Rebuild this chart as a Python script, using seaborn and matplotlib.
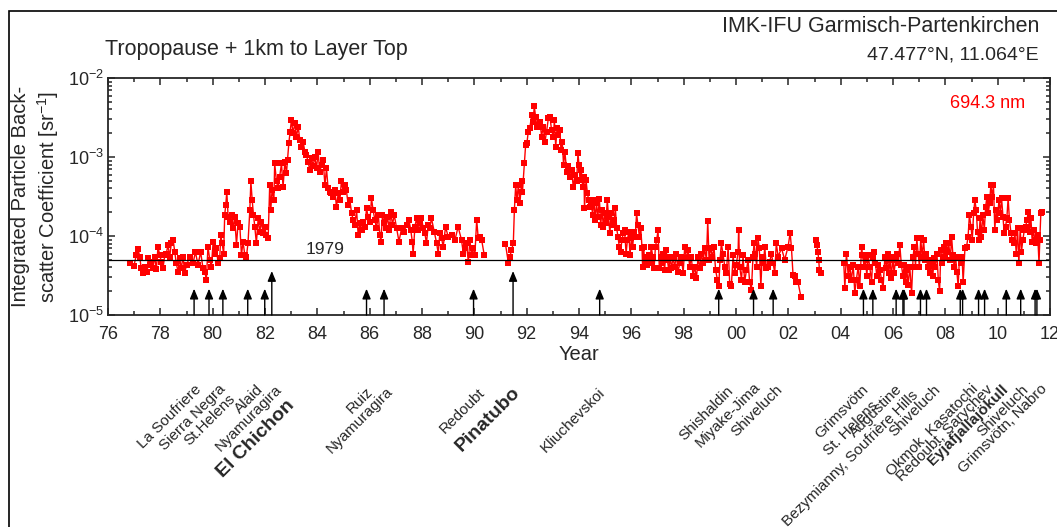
import matplotlib
matplotlib.use("Agg")
import matplotlib.pyplot as plt
import matplotlib.transforms as mtransforms
from matplotlib.patches import Rectangle
from matplotlib.ticker import MultipleLocator, FuncFormatter, LogLocator, NullFormatter
import numpy as np
import pandas as pd
import seaborn as sns

# integrated backscatter, tropopause + 1 km to layer top, 694.3 nm (year, sr^-1)
obs_1976_1991 = [
    (1976.83, 4.6e-5), (1976.99, 4.2e-5), (1977.08, 5.7e-5), (1977.15, 6.8e-5), (1977.21, 5.5e-5),
    (1977.27, 3.9e-5), (1977.34, 3.4e-5), (1977.40, 4.1e-5), (1977.50, 3.5e-5), (1977.53, 5.2e-5),
    (1977.59, 4.3e-5), (1977.66, 4.7e-5), (1977.72, 3.9e-5), (1977.78, 5.5e-5), (1977.85, 3.8e-5),
    (1977.91, 7.3e-5), (1977.98, 5.7e-5), (1978.04, 4.7e-5), (1978.10, 3.9e-5), (1978.17, 5.7e-5),
    (1978.23, 6.0e-5), (1978.29, 7.7e-5), (1978.36, 5.5e-5), (1978.42, 8.1e-5), (1978.49, 8.9e-5),
    (1978.55, 6.3e-5), (1978.61, 4.5e-5), (1978.68, 3.5e-5), (1978.74, 5.2e-5), (1978.80, 3.9e-5),
    (1978.87, 5.5e-5), (1978.93, 3.4e-5), (1979.00, 4.3e-5), (1979.12, 5.4e-5), (1979.25, 4.5e-5),
    (1979.34, 6.3e-5), (1979.44, 4.3e-5), (1979.54, 6.3e-5), (1979.63, 3.9e-5), (1979.70, 3.5e-5),
    (1979.76, 2.8e-5), (1979.82, 7.3e-5), (1979.89, 5.0e-5), (1979.95, 4.1e-5), (1980.02, 8.5e-5),
    (1980.08, 6.0e-5), (1980.14, 7.0e-5), (1980.21, 4.5e-5), (1980.27, 5.2e-5), (1980.31, 1.03e-4),
    (1980.36, 8.1e-5), (1980.42, 6.0e-5), (1980.46, 1.85e-4), (1980.50, 2.47e-4), (1980.54, 3.65e-4),
    (1980.59, 1.76e-4), (1980.65, 1.52e-4), (1980.72, 1.85e-4), (1980.78, 1.25e-4), (1980.84, 1.76e-4),
    (1980.91, 7.7e-5), (1980.97, 1.45e-4), (1981.04, 1.31e-4), (1981.10, 5.7e-5), (1981.16, 8.5e-5),
    (1981.23, 5.7e-5), (1981.29, 5.5e-5), (1981.35, 8.1e-5), (1981.42, 2.13e-4), (1981.46, 4.9e-4),
    (1981.51, 2.86e-4), (1981.56, 1.85e-4), (1981.61, 1.31e-4), (1981.67, 8.1e-5), (1981.74, 1.68e-4),
    (1981.80, 1.13e-4), (1981.86, 1.52e-4), (1981.93, 1.08e-4), (1981.99, 1.31e-4), (1982.05, 1.03e-4),
    (1982.12, 9.3e-5), (1982.18, 4.4e-4), (1982.22, 2.13e-4), (1982.27, 3.8e-4), (1982.34, 2.86e-4),
    (1982.37, 8.3e-4), (1982.44, 4.9e-4), (1982.50, 4.0e-4), (1982.56, 5.6e-4), (1982.63, 8.3e-4),
    (1982.69, 4.2e-4), (1982.76, 8.7e-4), (1982.82, 6.2e-4), (1982.86, 9.2e-4), (1982.91, 1.49e-3),
    (1982.96, 2.1e-3), (1983.01, 2.94e-3), (1983.07, 2.0e-3), (1983.14, 2.67e-3), (1983.20, 1.81e-3),
    (1983.27, 2.42e-3), (1983.33, 1.64e-3), (1983.39, 1.35e-3), (1983.46, 1.56e-3), (1983.52, 1.17e-3),
    (1983.58, 1.06e-3), (1983.65, 8.7e-4), (1983.71, 6.8e-4), (1983.78, 9.6e-4), (1983.84, 7.6e-4),
    (1983.90, 1.01e-3), (1983.97, 7.2e-4), (1984.03, 1.17e-3), (1984.09, 6.5e-4), (1984.16, 7.9e-4),
    (1984.22, 9.2e-4), (1984.29, 4.4e-4), (1984.35, 7.2e-4), (1984.41, 4.0e-4), (1984.48, 3.65e-4),
    (1984.54, 3.47e-4), (1984.60, 3.15e-4), (1984.67, 3.8e-4), (1984.73, 2.35e-4), (1984.80, 3.47e-4),
    (1984.86, 2.86e-4), (1984.92, 4.9e-4), (1984.99, 3.65e-4), (1985.05, 4.4e-4), (1985.11, 3.8e-4),
    (1985.18, 2.47e-4), (1985.24, 2.86e-4), (1985.31, 1.94e-4), (1985.37, 1.6e-4), (1985.43, 1.38e-4),
    (1985.50, 2.13e-4), (1985.56, 1.03e-4), (1985.62, 1.45e-4), (1985.69, 1.19e-4), (1985.75, 1.52e-4),
    (1985.82, 1.31e-4), (1985.88, 2.24e-4), (1985.94, 1.76e-4), (1986.01, 1.52e-4), (1986.07, 3.0e-4),
    (1986.13, 2.13e-4), (1986.20, 1.6e-4), (1986.26, 1.25e-4), (1986.33, 1.85e-4), (1986.39, 1.03e-4),
    (1986.43, 8.5e-5), (1986.49, 1.85e-4), (1986.55, 1.45e-4), (1986.62, 1.25e-4), (1986.68, 1.76e-4),
    (1986.75, 1.19e-4), (1986.81, 2.03e-4), (1986.87, 1.38e-4), (1986.94, 1.85e-4), (1987.03, 1.25e-4),
    (1987.12, 8.5e-5), (1987.22, 1.25e-4), (1987.31, 1.13e-4), (1987.41, 1.38e-4), (1987.50, 1.6e-4),
    (1987.57, 1.19e-4), (1987.63, 8.5e-5), (1987.66, 5.9e-5), (1987.73, 1.31e-4), (1987.79, 1.68e-4),
    (1987.85, 1.19e-4), (1987.92, 1.45e-4), (1987.98, 1.68e-4), (1988.05, 1.25e-4), (1988.11, 1.08e-4),
    (1988.17, 8.1e-5), (1988.24, 1.38e-4), (1988.30, 1.25e-4), (1988.36, 1.68e-4), (1988.47, 1.13e-4),
    (1988.56, 8.1e-5), (1988.62, 6.0e-5), (1988.68, 1.08e-4), (1988.75, 9.3e-5), (1988.81, 7.3e-5),
    (1988.90, 1.31e-4), (1989.00, 9.8e-5), (1989.13, 1.03e-4), (1989.26, 8.9e-5), (1989.38, 1.31e-4),
    (1989.51, 8.9e-5), (1989.58, 6.0e-5), (1989.64, 7.0e-5), (1989.70, 8.1e-5), (1989.77, 4.7e-5),
    (1989.83, 8.9e-5), (1989.89, 5.7e-5), (1989.96, 7.0e-5), (1990.02, 5.7e-5), (1990.09, 1.6e-4),
    (1990.15, 9.3e-5), (1990.21, 9.8e-5), (1990.28, 8.9e-5), (1990.38, 5.7e-5),
]

obs_1991_1994 = [
    (1991.19, 7.9e-5), (1991.30, 4.6e-5), (1991.36, 5.5e-5), (1991.42, 6.6e-5), (1991.49, 8.1e-5),
    (1991.53, 2.13e-4), (1991.58, 4.4e-4), (1991.63, 2.86e-4), (1991.68, 4.4e-4), (1991.74, 2.59e-4),
    (1991.81, 4.9e-4), (1991.84, 3.65e-4), (1991.91, 8.3e-4), (1991.96, 1.42e-3), (1992.01, 1.49e-3),
    (1992.06, 2.1e-3), (1992.12, 2.3e-3), (1992.19, 3.4e-3), (1992.25, 2.8e-3), (1992.29, 4.4e-3),
    (1992.34, 3.24e-3), (1992.39, 2.42e-3), (1992.44, 2.55e-3), (1992.51, 2.8e-3), (1992.57, 1.81e-3),
    (1992.63, 2.42e-3), (1992.70, 1.56e-3), (1992.76, 2.1e-3), (1992.83, 3.1e-3), (1992.89, 3.24e-3),
    (1992.95, 2.2e-3), (1993.02, 1.81e-3), (1993.06, 2.94e-3), (1993.11, 1.35e-3), (1993.16, 2.3e-3),
    (1993.21, 1.9e-3), (1993.27, 2.2e-3), (1993.31, 1.23e-3), (1993.36, 1.56e-3), (1993.41, 7.9e-4),
    (1993.46, 1.17e-3), (1993.53, 6.5e-4), (1993.59, 7.6e-4), (1993.65, 5.6e-4), (1993.72, 6.8e-4),
    (1993.78, 4.2e-4), (1993.85, 5.9e-4), (1993.91, 4.9e-4), (1993.96, 1.11e-3), (1994.00, 7.9e-4),
]

obs_1994_2003 = [
    (1994.04, 5.1e-4), (1994.09, 6.8e-4), (1994.14, 4.2e-4), (1994.19, 5.6e-4), (1994.21, 2.24e-4),
    (1994.27, 5.1e-4), (1994.32, 3.47e-4), (1994.37, 2.86e-4), (1994.42, 2.35e-4), (1994.47, 2.72e-4),
    (1994.52, 1.85e-4), (1994.57, 2.86e-4), (1994.62, 1.6e-4), (1994.67, 2.59e-4), (1994.72, 1.76e-4),
    (1994.78, 2.9e-4), (1994.83, 1.38e-4), (1994.88, 2.13e-4), (1994.93, 1.31e-4), (1994.98, 1.94e-4),
    (1995.03, 1.45e-4), (1995.08, 2.86e-4), (1995.13, 1.76e-4), (1995.18, 1.08e-4), (1995.23, 1.94e-4),
    (1995.29, 1.38e-4), (1995.34, 1.6e-4), (1995.39, 2.24e-4), (1995.44, 1.25e-4), (1995.49, 9.8e-5),
    (1995.54, 7.3e-5), (1995.59, 6.3e-5), (1995.64, 8.9e-5), (1995.69, 1.08e-4), (1995.74, 1.19e-4),
    (1995.80, 6.0e-5), (1995.85, 8.9e-5), (1995.90, 1.13e-4), (1995.95, 5.7e-5), (1996.00, 9.3e-5),
    (1996.05, 7.3e-5), (1996.10, 1.13e-4), (1996.15, 9.8e-5), (1996.20, 1.94e-4), (1996.25, 1.38e-4),
    (1996.31, 9.8e-5), (1996.36, 1.25e-4), (1996.41, 7.0e-5), (1996.43, 4.1e-5), (1996.47, 7.3e-5),
    (1996.51, 4.5e-5), (1996.56, 5.5e-5), (1996.61, 4.3e-5), (1996.66, 5.7e-5), (1996.71, 4.5e-5),
    (1996.76, 7.3e-5), (1996.82, 5.5e-5), (1996.87, 3.9e-5), (1996.92, 7.3e-5), (1996.97, 8.9e-5),
    (1997.02, 1.19e-4), (1997.07, 3.9e-5), (1997.12, 5.5e-5), (1997.17, 4.5e-5), (1997.22, 6.0e-5),
    (1997.27, 3.7e-5), (1997.33, 6.6e-5), (1997.38, 5.0e-5), (1997.43, 3.7e-5), (1997.48, 5.5e-5),
    (1997.53, 3.9e-5), (1997.59, 5.2e-5), (1997.66, 4.1e-5), (1997.72, 6.0e-5), (1997.78, 3.5e-5),
    (1997.85, 4.5e-5), (1997.91, 5.5e-5), (1997.98, 3.4e-5), (1998.04, 7.3e-5), (1998.10, 5.2e-5),
    (1998.17, 6.6e-5), (1998.23, 4.1e-5), (1998.29, 5.5e-5), (1998.36, 3.1e-5), (1998.42, 4.1e-5),
    (1998.49, 2.9e-5), (1998.55, 5.5e-5), (1998.61, 3.9e-5), (1998.68, 6.0e-5), (1998.74, 4.5e-5),
    (1998.80, 7.0e-5), (1998.87, 5.0e-5), (1998.92, 1.57e-4), (1998.97, 5.0e-5), (1999.03, 7.0e-5),
    (1999.10, 5.5e-5), (1999.16, 7.3e-5), (1999.22, 3.7e-5), (1999.29, 2.8e-5), (1999.34, 2.3e-5),
    (1999.39, 5.0e-5), (1999.44, 8.1e-5), (1999.50, 6.0e-5), (1999.57, 4.1e-5), (1999.63, 3.4e-5),
    (1999.70, 7.3e-5), (1999.76, 2.5e-5), (1999.82, 2.3e-5), (1999.89, 5.7e-5), (1999.95, 3.4e-5),
    (2000.01, 4.3e-5), (2000.08, 6.3e-5), (2000.10, 1.19e-4), (2000.14, 4.1e-5), (2000.21, 2.8e-5),
    (2000.27, 5.7e-5), (2000.33, 2.6e-5), (2000.40, 3.7e-5), (2000.46, 5.0e-5), (2000.52, 2.6e-5),
    (2000.59, 2.1e-5), (2000.65, 5.5e-5), (2000.69, 8.1e-5), (2000.74, 6.0e-5), (2000.79, 4.1e-5),
    (2000.84, 9.3e-5), (2000.89, 7.0e-5), (2000.95, 2.3e-5), (2001.00, 5.5e-5), (2001.05, 4.5e-5),
    (2001.10, 7.3e-5), (2001.16, 3.9e-5), (2001.23, 4.1e-5), (2001.29, 4.7e-5), (2001.35, 6.0e-5),
    (2001.42, 4.5e-5), (2001.48, 3.4e-5), (2001.54, 8.1e-5), (2001.61, 5.5e-5), (2001.74, 7.0e-5),
    (2001.86, 5.0e-5), (2001.99, 7.3e-5), (2002.07, 1.1e-4), (2002.12, 7.0e-5), (2002.18, 3.2e-5),
    (2002.25, 3.1e-5), (2002.31, 2.6e-5), (2002.37, 2.6e-5), (2002.48, 1.7e-5),
    (2003.05, 8.9e-5), (2003.09, 7.7e-5), (2003.13, 6.3e-5), (2003.16, 5.0e-5), (2003.19, 3.7e-5),
    (2003.24, 3.4e-5),
]

obs_2004_2012 = [
    (2004.12, 4.5e-5), (2004.16, 2.2e-5), (2004.22, 6.0e-5), (2004.29, 3.1e-5), (2004.35, 4.1e-5),
    (2004.41, 2.8e-5), (2004.48, 4.3e-5), (2004.54, 1.9e-5), (2004.60, 2.8e-5), (2004.67, 4.1e-5),
    (2004.73, 2.3e-5), (2004.80, 7.3e-5), (2004.83, 5.7e-5), (2004.90, 4.1e-5), (2004.95, 5.0e-5),
    (2005.00, 3.1e-5), (2005.05, 5.7e-5), (2005.11, 4.1e-5), (2005.18, 2.6e-5), (2005.23, 5.5e-5),
    (2005.28, 6.3e-5), (2005.33, 4.5e-5), (2005.38, 3.1e-5), (2005.43, 4.3e-5), (2005.50, 3.7e-5),
    (2005.56, 2.8e-5), (2005.62, 2.2e-5), (2005.69, 5.5e-5), (2005.75, 3.9e-5), (2005.79, 6.0e-5),
    (2005.84, 3.4e-5), (2005.89, 5.0e-5), (2005.94, 2.9e-5), (2005.99, 5.5e-5), (2006.04, 3.4e-5),
    (2006.10, 5.0e-5), (2006.15, 6.0e-5), (2006.20, 4.5e-5), (2006.26, 7.7e-5), (2006.32, 4.3e-5),
    (2006.38, 3.1e-5), (2006.43, 4.3e-5), (2006.48, 2.6e-5), (2006.53, 3.7e-5), (2006.58, 2.4e-5),
    (2006.64, 4.1e-5), (2006.71, 1.9e-5), (2006.77, 5.5e-5), (2006.81, 7.3e-5), (2006.86, 4.1e-5),
    (2006.91, 9.3e-5), (2006.96, 6.0e-5), (2007.01, 4.1e-5), (2007.06, 9.3e-5), (2007.11, 5.5e-5),
    (2007.17, 8.9e-5), (2007.22, 5.0e-5), (2007.27, 6.0e-5), (2007.32, 4.1e-5), (2007.37, 5.0e-5),
    (2007.42, 3.4e-5), (2007.47, 4.5e-5), (2007.52, 3.1e-5), (2007.57, 5.2e-5), (2007.62, 4.1e-5),
    (2007.68, 6.0e-5), (2007.73, 2.8e-5), (2007.78, 2.0e-5), (2007.83, 6.6e-5), (2007.88, 4.5e-5),
    (2007.93, 7.3e-5), (2007.98, 5.5e-5), (2008.03, 8.1e-5), (2008.08, 6.3e-5), (2008.13, 8.1e-5),
    (2008.19, 5.0e-5), (2008.24, 9.8e-5), (2008.29, 5.7e-5), (2008.34, 4.1e-5), (2008.39, 5.5e-5),
    (2008.44, 3.5e-5), (2008.49, 2.3e-5), (2008.54, 5.5e-5), (2008.59, 4.5e-5), (2008.64, 5.5e-5),
    (2008.68, 2.6e-5), (2008.75, 7.0e-5), (2008.81, 7.3e-5), (2008.87, 9.8e-5), (2008.92, 1.85e-4),
    (2008.98, 1.31e-4), (2009.03, 8.9e-5), (2009.08, 1.94e-4), (2009.13, 2.86e-4), (2009.18, 2.13e-4),
    (2009.23, 1.13e-4), (2009.28, 8.9e-5), (2009.33, 1.68e-4), (2009.38, 9.8e-5), (2009.43, 1.85e-4),
    (2009.49, 1.19e-4), (2009.54, 2.35e-4), (2009.59, 3.15e-4), (2009.64, 1.94e-4), (2009.69, 2.59e-4),
    (2009.74, 4.4e-4), (2009.79, 3.15e-4), (2009.84, 4.4e-4), (2009.89, 1.19e-4), (2009.94, 2.13e-4),
    (2009.99, 1.6e-4), (2010.05, 2.86e-4), (2010.10, 1.94e-4), (2010.15, 3.0e-4), (2010.20, 1.76e-4),
    (2010.25, 1.08e-4), (2010.30, 1.31e-4), (2010.35, 1.68e-4), (2010.40, 3.0e-4), (2010.45, 1.6e-4),
    (2010.51, 1.08e-4), (2010.56, 8.9e-5), (2010.61, 8.1e-5), (2010.66, 1.08e-4), (2010.71, 6.0e-5),
    (2010.76, 1.25e-4), (2010.81, 4.5e-5), (2010.86, 1.25e-4), (2010.91, 6.3e-5), (2010.96, 8.9e-5),
    (2011.02, 1.19e-4), (2011.07, 1.31e-4), (2011.12, 1.6e-4), (2011.17, 2.03e-4), (2011.22, 1.13e-4),
    (2011.27, 1.68e-4), (2011.32, 8.5e-5), (2011.37, 1.19e-4), (2011.42, 8.9e-5), (2011.48, 8.1e-5),
    (2011.53, 1.03e-4), (2011.58, 4.5e-5), (2011.61, 8.9e-5), (2011.65, 1.94e-4), (2011.70, 2.03e-4),
]

background_1979 = 4.9e-5

# eruptions: year of arrow, major (tall arrow) or not
eruption_years = [1979.29, 1979.86, 1980.39, 1981.34, 1981.99, 1982.26, 1985.88, 1986.55,
                  1989.97, 1991.48, 1994.79, 1999.34, 2000.67, 2001.42, 2004.87, 2005.23,
                  2006.12, 2006.38, 2006.42, 2007.05, 2007.28, 2008.57, 2008.66, 2009.27,
                  2009.50, 2010.33, 2010.88, 2011.43, 2011.50]
major_eruptions = [1982.26, 1991.48]

volcano_names = ["La Soufriere", "Sierra Negra", "St.Helens", "Alaid", "Nyamuragira",
                 "El Chichon", "Ruiz", "Nyamuragira", "Redoubt", "Pinatubo", "Kliuchevskoi",
                 "Shishaldin", "Miyake-Jima", "Shiveluch", "Grimsvötn", "St. Helens",
                 "Augustine", "Bezymianny, Soufrière Hills", "Shiveluch", "Okmok, Kasatochi",
                 "Redoubt, Sarychev", "Eyjafjallajökull", "Shiveluch", "Grimsvötn, Nabro"]
volcano_label_x = [1979.30, 1980.20, 1980.60, 1981.65, 1982.38, 1982.78, 1985.86, 1986.62,
                   1990.14, 1991.42, 1994.73, 1999.63, 2000.66, 2001.50, 2004.79, 2005.17,
                   2006.08, 2006.70, 2007.54, 2008.99, 2009.53, 2010.14, 2010.91, 2011.63]
volcano_label_top = [382, 382, 392, 382, 382, 397, 385, 384, 385, 384, 385, 384, 380, 382,
                     382, 399, 382, 388, 382, 382, 382, 382, 382, 382]
bold_names = {"El Chichon": 14, "Pinatubo": 14, "Eyjafjallajökull": 11}

sns.set_style("ticks")
plt.rcParams['font.family'] = ['Liberation Sans', 'DejaVu Sans']
plt.rcParams['mathtext.fontset'] = 'custom'
plt.rcParams['mathtext.rm'] = 'Liberation Sans'
plt.rcParams['mathtext.it'] = 'Liberation Sans:italic'
plt.rcParams['mathtext.bf'] = 'Liberation Sans:bold'

W, H = 1057, 527
fig = plt.figure(figsize=(W / 100, H / 100), dpi=100)
ax = fig.add_axes([108 / W, 1 - 315 / H, 942 / W, 237 / H])

# outer frame
fig.patches.append(Rectangle((9 / W, -0.1), 1.2, 1.1 - 11 / H, transform=fig.transFigure,
                             fill=False, ec='black', lw=1.2))

obs = pd.DataFrame(obs_1976_1991 + obs_1991_1994 + obs_1994_2003 + obs_2004_2012,
                   columns=['year', 'beta'])
obs['segment'] = (obs['year'].diff() > 0.45).cumsum()

sns.lineplot(data=obs, x='year', y='beta', units='segment', estimator=None, color='red',
             lw=1.0, marker='s', markersize=4.2, markeredgewidth=0, ax=ax)

ax.axhline(background_1979, color='black', lw=0.9)
ax.text(1984.3, 6.8e-5, "1979", ha='center', va='center', fontsize=12.5)

for x in eruption_years:
    tip = 3.6e-5 if x in major_eruptions else 2.15e-5
    ax.annotate('', xy=(x, tip), xytext=(x, 1e-5),
                arrowprops=dict(arrowstyle='-|>,head_length=0.6,head_width=0.25',
                                color='black', lw=1, shrinkA=0, shrinkB=0))

ax.set_yscale('log')
ax.set_ylim(1e-5, 1e-2)
ax.set_xlim(1976, 2012)
ax.xaxis.set_major_locator(MultipleLocator(2))
ax.xaxis.set_minor_locator(MultipleLocator(1))
ax.xaxis.set_major_formatter(FuncFormatter(lambda v, p: f"{int(round(v)) % 100:02d}"))
ax.yaxis.set_major_locator(LogLocator(base=10))
ax.yaxis.set_minor_locator(LogLocator(base=10, subs=np.arange(2, 10)))
ax.yaxis.set_minor_formatter(NullFormatter())
ax.tick_params(which='both', direction='in', top=True, right=True, width=1.1)
ax.tick_params(which='major', length=5, labelsize=13)
ax.tick_params(which='minor', length=3)
ax.tick_params(axis='x', which='major', pad=8)
ax.tick_params(axis='y', which='major', pad=3)
for s in ax.spines.values():
    s.set_linewidth(1.3)

ax.set_xlabel("Year", fontsize=14.5, labelpad=1)
ax.set_ylabel("Integrated Particle Back-\nscatter Coefficient [sr$^{-1}$]", fontsize=14.5,
              labelpad=5, linespacing=1.25)

ax.text((1025 - 108) / 942, (315 - 103) / 237, "694.3 nm", transform=ax.transAxes,
        ha='right', va='center', color='red', fontsize=13)
fig.text(105 / W, 1 - 50 / H, "Tropopause + 1km to Layer Top", ha='left', va='center',
         fontsize=15.5)
fig.text(1039 / W, 1 - 26 / H, "IMK-IFU Garmisch-Partenkirchen", ha='right', va='center',
         fontsize=15.5)
fig.text(1039 / W, 1 - 55 / H, "47.477°N, 11.064°E", ha='right', va='center', fontsize=14)

label_trans = mtransforms.blended_transform_factory(ax.transData, fig.transFigure)
for name, x, top in zip(volcano_names, volcano_label_x, volcano_label_top):
    bold = name in bold_names
    ax.text(x, 1 - top / H, name, transform=label_trans, rotation=45, rotation_mode='anchor',
            ha='right', va='top', fontsize=bold_names.get(name, 11),
            fontweight='bold' if bold else 'normal', clip_on=False)

fig.savefig("out.png", dpi=100)
